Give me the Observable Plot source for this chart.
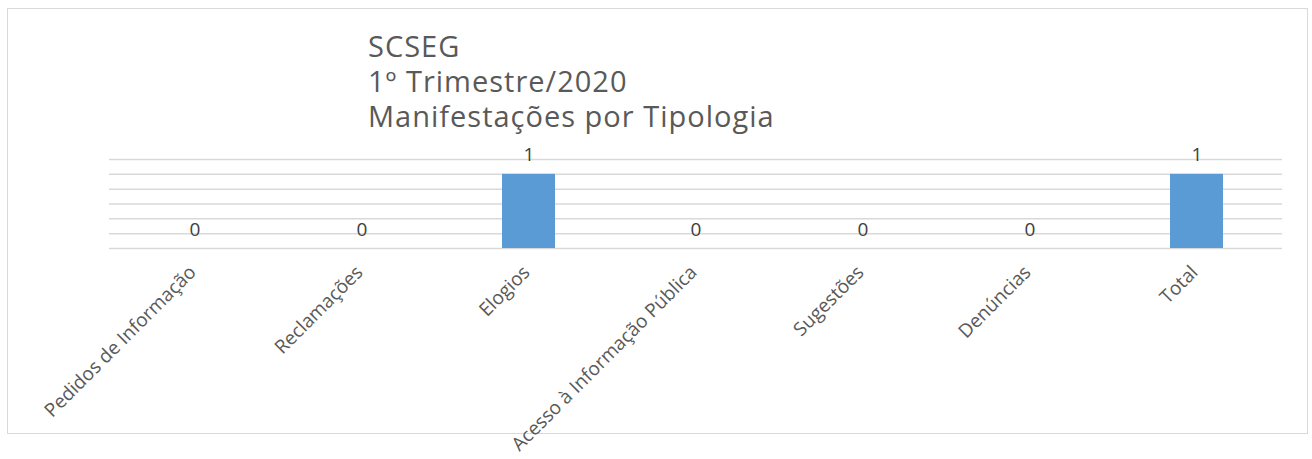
<!DOCTYPE html>
<html>
<head>
<meta charset="utf-8">
<script src="https://cdn.jsdelivr.net/npm/d3@7"></script>
<script src="https://cdn.jsdelivr.net/npm/@observablehq/plot@0.6"></script>
<style>
  html, body { margin: 0; padding: 0; background: #fff; }
  #wrap { position: relative; width: 1312px; height: 459px; overflow: hidden; font-family: "Open Sans", sans-serif; }
  #frame { position: absolute; left: 7px; top: 8px; width: 1301px; height: 426px; border: 1.5px solid #d9d9d9; box-sizing: border-box; }
  #title { position: absolute; left: 368px; top: 28px; font-size: 29px; letter-spacing: 1px; line-height: 35px; color: #595959; white-space: pre; }
  #chart { position: absolute; left: 0; top: 0; }
</style>
</head>
<body>
<div id="wrap">
  <div id="frame"></div>
  <div id="chart"></div>
  <div id="title"></div>
</div>
<script>
const titleLines = ["SCSEG", "1º Trimestre/2020", "Manifestações por Tipologia"];
const categories = ["Pedidos de Informação", "Reclamações", "Elogios", "Acesso à Informação Pública", "Sugestões", "Denúncias", "Total"];
const values = [0, 0, 1, 0, 0, 0, 1];
const gridTicks = [0, 0.2, 0.4, 0.6, 0.8, 1.0, 1.2];

document.getElementById("title").textContent = titleLines.join("\n");

const data = categories.map((c, i) => ({category: c, value: values[i]}));

const chart = Plot.plot({
  width: 1312,
  height: 459,
  marginLeft: 109,
  marginRight: 30,
  marginTop: 159,
  marginBottom: 211,
  style: {background: "transparent", fontFamily: "Open Sans, sans-serif", overflow: "visible"},
  x: {domain: categories, paddingInner: 0.685, paddingOuter: 0.3425, axis: null},
  y: {domain: [0, 1.2], axis: null},
  marks: [
    Plot.ruleY(gridTicks, {stroke: "#d9d9d9", strokeWidth: 1.5}),
    Plot.barY(data, {x: "category", y: "value", fill: "#5b9bd5"}),
    Plot.text(data, {x: "category", y: "value", text: d => String(d.value), dy: -19, fontSize: 19, fill: "#404040"}),
    Plot.text(categories, {x: d => d, frameAnchor: "bottom", dy: 25, dx: 2, rotate: -45, textAnchor: "end", fontSize: 19, fill: "#595959"})
  ]
});
document.getElementById("chart").appendChild(chart);
</script>
</body>
</html>
